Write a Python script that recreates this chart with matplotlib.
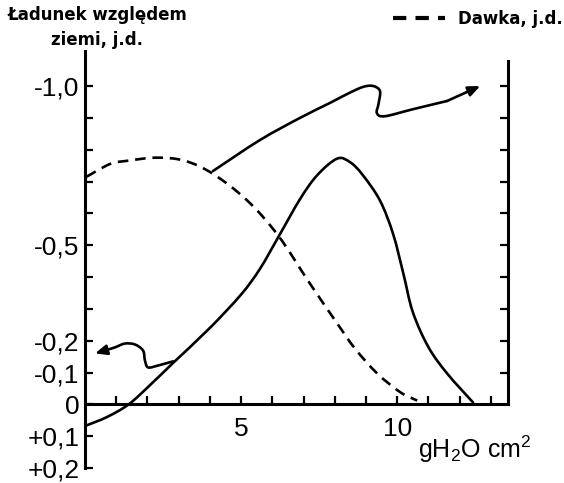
import matplotlib
matplotlib.use("Agg")
import matplotlib.pyplot as plt
from matplotlib.lines import Line2D
from matplotlib.path import Path
from matplotlib.patches import PathPatch
import numpy as np

plt.rcParams['font.family'] = ['Liberation Sans', 'DejaVu Sans']
plt.rcParams['mathtext.fontset'] = 'custom'
plt.rcParams['mathtext.rm'] = 'Liberation Sans'
plt.rcParams['mathtext.it'] = 'Liberation Sans'

# Data (x: gH2O cm^-2 ; y: minus the charge, so -1,0 is on top)
charge_x = [0.0, 0.7, 1.4, 2.1, 2.82, 4.0, 5.0, 5.6, 6.19, 6.89, 7.44,
            8.08, 8.5, 8.9, 9.45, 9.87, 10.2, 10.5, 11.0, 11.6, 12.43]
charge_y = [-0.068, -0.04, 0.0, 0.062, 0.13, 0.24, 0.345, 0.425, 0.525, 0.645,
            0.72, 0.772, 0.76, 0.72, 0.64, 0.535, 0.41, 0.29, 0.18, 0.097, 0.006]

dose_x = [0.05, 0.8, 1.35, 2.3, 3.2, 4.1, 5.2, 6.19, 7.2, 8.08, 8.65, 9.36, 10.1, 10.64]
dose_y = [0.715, 0.755, 0.765, 0.775, 0.765, 0.724, 0.64, 0.53, 0.38, 0.254, 0.175,
          0.097, 0.038, 0.012]

arrow_top_x = [4.1, 5.6, 6.89, 7.85, 8.4, 8.9, 9.23, 9.45, 9.4, 9.35, 9.6, 10.5, 11.6, 12.66]
arrow_top_y = [0.733, 0.83, 0.90, 0.947, 0.975, 0.997, 1.0, 0.984, 0.943, 0.915, 0.905,
               0.927, 0.953, 1.0]

arrow_bot_x = [2.82, 2.34, 2.02, 1.92, 1.86, 1.6, 1.28, 0.96, 0.64, 0.32]
arrow_bot_y = [0.135, 0.122, 0.116, 0.138, 0.169, 0.188, 0.191, 0.179, 0.169, 0.16]

y_ticks = [-0.2, -0.1, 0.0, 0.1, 0.2, 0.3, 0.4, 0.5, 0.6, 0.7, 0.8, 0.9, 1.0]
y_labels = ['+0,2', '+0,1', '0', '-0,1', '-0,2', '', '', '-0,5', '', '', '', '', '-1,0']
x_ticks = list(range(1, 14))
x_labels = ['', '', '', '', '5', '', '', '', '', '10', '', '', '']
right_ticks = [0.1, 0.2, 0.3, 0.4, 0.5, 0.6, 0.7, 0.8, 0.9, 1.0]


def smooth_path(xs, ys):
    """Catmull-Rom style Bezier path through the given points."""
    p = np.column_stack([xs, ys]).astype(float)
    n = len(p)
    verts = [p[0]]
    codes = [Path.MOVETO]
    for i in range(n - 1):
        p0 = p[i - 1] if i > 0 else p[i]
        p1 = p[i]
        p2 = p[i + 1]
        p3 = p[i + 2] if i + 2 < n else p[i + 1]
        c1 = p1 + (p2 - p0) / 6.0
        c2 = p2 - (p3 - p1) / 6.0
        verts += [c1, c2, p2]
        codes += [Path.CURVE4] * 3
    return Path(verts, codes)


W, H = 564, 483
fig = plt.figure(figsize=(W / 100, H / 100), dpi=100)
ax = fig.add_axes([85 / W, 15 / H, 423 / W, 417 / H])
ax.set_xlim(0, 13.55)
ax.set_ylim(-0.2, 1.11)

lw_curve = 1.9
ax.add_patch(PathPatch(smooth_path(charge_x, charge_y), fill=False, color='black',
                       lw=lw_curve, capstyle='round', joinstyle='round'))
ax.add_patch(PathPatch(smooth_path(dose_x, dose_y), fill=False, color='black',
                       lw=lw_curve, linestyle=(0, (4, 2.6))))

for xs, ys in [(arrow_top_x, arrow_top_y), (arrow_bot_x, arrow_bot_y)]:
    ax.add_patch(PathPatch(smooth_path(xs[:-1], ys[:-1]), fill=False, color='black',
                           lw=lw_curve, capstyle='round', joinstyle='round'))
    ax.annotate('', xy=(xs[-1], ys[-1]), xytext=(xs[-2], ys[-2]),
                arrowprops=dict(arrowstyle='-|>,head_length=0.7,head_width=0.3',
                                color='black', lw=lw_curve, shrinkA=0, shrinkB=0))

# spines
for s in ['top', 'right']:
    ax.spines[s].set_visible(False)
ax.spines['left'].set_linewidth(2.2)
ax.spines['bottom'].set_linewidth(2.2)
ax.spines['bottom'].set_position(('data', 0))
ax.spines['bottom'].set_bounds(0, 13.55)

ax.set_yticks(y_ticks)
ax.set_yticklabels(y_labels)
ax.set_xticks(x_ticks)
ax.set_xticklabels(x_labels)
ax.tick_params(axis='y', direction='in', length=6, width=1.6, pad=4, labelsize=19)
ax.tick_params(axis='x', direction='in', length=6, width=1.6, pad=9, labelsize=19)

ax2 = ax.twinx()
ax2.set_ylim(ax.get_ylim())
for s in ['top', 'left', 'bottom']:
    ax2.spines[s].set_visible(False)
ax2.spines['right'].set_linewidth(2.2)
ax2.spines['right'].set_bounds(0, 1.08)
ax2.set_yticks(right_ticks)
ax2.set_yticklabels([])
ax2.tick_params(axis='y', direction='in', length=6, width=1.6)

# texts
fig.text(8 / W, 1 - 15 / H, 'Ładunek względem', fontsize=12, fontweight='bold',
         family=['DejaVu Sans'], va='center', ha='left')
fig.text(97 / W, 1 - 40 / H, 'ziemi, j.d.', fontsize=12, fontweight='bold',
         family=['DejaVu Sans'], va='center', ha='center')

handle = Line2D([], [], color='black', lw=3, linestyle=(0, (3.2, 2.2)))
fig.legend([handle], ['Dawka, j.d.'], loc='center left',
           bbox_to_anchor=(393 / W, 1 - 19 / H), frameon=False, borderpad=0,
           borderaxespad=0, handlelength=3.1, handletextpad=0.8,
           prop=dict(family='DejaVu Sans', weight='bold', size=12))

fig.text(418 / W, 1 - 449 / H, 'gH$_2$O cm$^2$', fontsize=18, va='center', ha='left')

fig.savefig('out.png', dpi=100)
